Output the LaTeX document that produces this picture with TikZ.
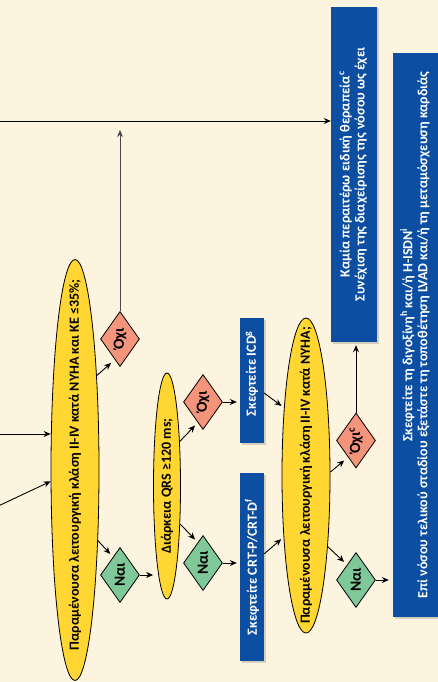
\documentclass[tikz,border=0pt]{standalone}
\usepackage{fontspec}
\setmainfont{Carlito}
\usetikzlibrary{shapes.geometric,arrows.meta,calc,shadows}
\definecolor{bgc}{HTML}{FDF4DF}
\definecolor{boxblue}{HTML}{0B4EA2}
\definecolor{qyellow}{HTML}{FFD632}
\definecolor{nored}{HTML}{F4957B}
\definecolor{yesgreen}{HTML}{7FC897}
\definecolor{linegrey}{HTML}{4A4A4A}
\newcommand{\vtxt}[1]{\rotatebox{90}{\makebox[0pt]{#1}}}
\begin{document}
\begin{tikzpicture}[x=1pt,y=1pt,
  qell/.style={ellipse, draw=black, line width=0.8pt, fill=qyellow, inner sep=0pt, font=\bfseries\fontsize{14}{16}\selectfont},
  nodia/.style={diamond, draw=black, line width=0.8pt, fill=nored, inner sep=0pt, minimum width=39pt, minimum height=55pt, font=\bfseries\fontsize{15.5}{17}\selectfont},
  yesdia/.style={nodia, fill=yesgreen},
  bluebox/.style={rectangle, fill=boxblue, inner sep=0pt, text=white, font=\bfseries\fontsize{14}{15}\selectfont, drop shadow={shadow xshift=1.5pt, shadow yshift=-1.5pt, opacity=0.15, fill=black}},
  arr/.style={-{Stealth[length=7pt,width=6pt]}, line width=0.9pt, black},
]
\useasboundingbox (0,0) rectangle (438,-682);
\fill[bgc] (0,0) rectangle (438,-682);

% free ends
\coordinate (top) at (0,-121);
\coordinate (in1) at (0,-434);
\coordinate (in2) at (-6,-508);

% questions
\node[qell, minimum width=48pt, minimum height=421pt] (e1) at (75,-470)
  {\vtxt{\kern10pt Παραμένουσα λειτουργική κλάση II-IV κατά NYHA και ΚΕ ≤35\%;}};
\node[qell, minimum width=27pt, minimum height=226pt] (e2) at (167,-486)
  {\vtxt{Διάρκεια QRS ≥120 ms;}};
\node[qell, minimum width=48pt, minimum height=315pt] (e3) at (306,-475.5)
  {\vtxt{Παραμένουσα λειτουργική κλάση II-IV κατά NYHA;}};

% answers
\node[nodia] (o1) at (120,-339) {\vtxt{Όχι}};
\node[yesdia] (n1) at (120,-575) {\vtxt{Ναι}};
\node[nodia] (o2) at (203,-402) {\vtxt{Όχι}};
\node[yesdia] (n2) at (203,-563) {\vtxt{Ναι}};
\node[nodia] (o3) at (356,-440.5) {\vtxt{Όχι\textsuperscript{c}}};
\node[yesdia] (n3) at (356,-580) {\vtxt{Ναι}};

% actions
\node[bluebox, minimum width=46pt, minimum height=335pt] (b1) at (354,-174.5)
  {\vtxt{\begin{tabular}{@{}c@{}}Καμία περαιτέρω ειδική θεραπεία\textsuperscript{c}\\Συνέχιση της διαχείρισης της νόσου ως έχει\end{tabular}}};
\node[bluebox, minimum width=46pt, minimum height=564pt] (b2) at (416,-335)
  {\vtxt{\begin{tabular}{@{}c@{}}Σκεφτείτε τη διγοξίνη\textsuperscript{h} και/ή H-ISDN\textsuperscript{i}\\Επί νόσου τελικού σταδίου εξετάστε τη τοποθέτηση LVAD και/ή τη μεταμόσχευση καρδιάς\end{tabular}}};
\node[bluebox, minimum width=24pt, minimum height=125pt] (icd) at (252,-380.5)
  {\vtxt{\kern14pt Σκεφτείτε ICD\textsuperscript{g}}};
\node[bluebox, minimum width=24pt, minimum height=188pt] (crt) at (252,-567)
  {\vtxt{Σκεφτείτε CRT-P/CRT-D\textsuperscript{f}}};

% connectors
\draw[arr] (top) -- (top -| b1.west);
\draw[arr, draw=linegrey, shorten >=9pt] (o1.north) -- (o1.north |- top);
\draw[arr] (in1) -- (in1 -| e1.west);
\draw[arr] (in2) -- (e1.205);
\draw[arr, shorten >=5pt] (e1.77) -- ($(o1.west)!0.74!(o1.south)$);
\draw[arr, shorten >=4pt] (e1.-72) -- ($(n1.west)!0.65!(n1.north)$);
\draw[arr] (n1.east) -- (n1.east -| e2.west);
\draw[arr, shorten >=4pt] (e2.74) -- ($(o2.west)!0.74!(o2.south)$);
\draw[arr, shorten >=4pt] (e2.-71) -- ($(n2.west)!0.74!(n2.north)$);
\draw[arr, shorten >=3pt] (o2.east) -- (o2.east -| icd.west);
\draw[arr, shorten >=3pt] (n2.east) -- (n2.east -| crt.west);
\draw[arr, shorten >=3pt] ($(icd.north east)!0.6!(icd.south east)$) -- (e3.108);
\draw[arr, shorten >=3pt] ($(crt.north east)!0.43!(crt.south east)$) -- (e3.-110);
\draw[arr, shorten >=5pt] (e3.8) -- ($(o3.west)!0.6!(o3.south)$);
\draw[arr, shorten >=4pt] (e3.-73) -- ($(n3.west)!0.55!(n3.north)$);
\draw[arr, shorten >=3pt] (o3.north) -- (o3.north |- b1.south);
\draw[arr, shorten >=4pt] (n3.east) -- (n3.east -| b2.west);
\end{tikzpicture}
\end{document}
